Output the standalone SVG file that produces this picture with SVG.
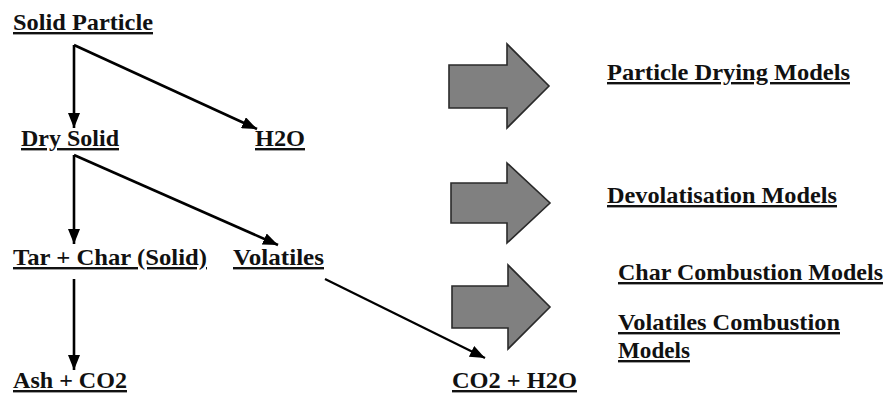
<svg xmlns="http://www.w3.org/2000/svg" width="889" height="393" viewBox="0 0 889 393">
<defs>
<marker id="ah" markerUnits="userSpaceOnUse" markerWidth="16" markerHeight="12" refX="15" refY="6" orient="auto">
<path d="M0,0 L15,6 L0,12 z" fill="#000"/>
</marker>
<style>
text{font-family:'Liberation Serif','Times New Roman',serif;font-weight:bold;font-size:24px;fill:#111;text-decoration:underline}
.c{stroke:#000;stroke-width:2.6;fill:none;marker-end:url(#ah)}
.b{fill:#808080;stroke:#2a2a2a;stroke-width:1.6;stroke-linejoin:miter}
</style>
</defs>
<rect width="889" height="393" fill="#fff"/>
<g id="connectors">
<line class="c" x1="74" y1="45" x2="74" y2="128"/>
<line class="c" x1="74" y1="45" x2="257" y2="129"/>
<line class="c" x1="74" y1="155" x2="74" y2="244"/>
<line class="c" x1="74" y1="155" x2="278" y2="245"/>
<line class="c" x1="74" y1="279" x2="74" y2="370"/>
<line class="c" x1="325" y1="279" x2="485" y2="358" style="stroke-width:2.2"/>
</g>
<g id="solid-particle"><text x="13" y="30" textLength="140" lengthAdjust="spacingAndGlyphs">Solid Particle</text></g>
<g id="dry-solid"><text x="21" y="146" textLength="98" lengthAdjust="spacingAndGlyphs">Dry Solid</text></g>
<g id="h2o"><text x="255" y="146" textLength="50" lengthAdjust="spacingAndGlyphs">H2O</text></g>
<g id="tar-char"><text x="13" y="265" textLength="194" lengthAdjust="spacingAndGlyphs">Tar + Char (Solid)</text></g>
<g id="volatiles"><text x="233" y="265" textLength="91" lengthAdjust="spacingAndGlyphs">Volatiles</text></g>
<g id="ash-co2"><text x="13" y="388" textLength="114" lengthAdjust="spacingAndGlyphs">Ash + CO2</text></g>
<g id="co2-h2o"><text x="452" y="388" textLength="125" lengthAdjust="spacingAndGlyphs">CO2 + H2O</text></g>
<g id="arrow-drying"><path class="b" d="M449,65 L507,65 L507,44 L549,86 L507,128 L507,108 L449,108 z"/></g>
<g id="arrow-devol"><path class="b" d="M451,183 L507,183 L507,163 L550,203 L507,243 L507,223 L451,223 z"/></g>
<g id="arrow-comb"><path class="b" d="M452,286 L508,286 L508,265 L550,307 L508,349 L508,328 L452,328 z"/></g>
<g id="drying-models"><text x="607" y="80" textLength="243" lengthAdjust="spacingAndGlyphs">Particle Drying Models</text></g>
<g id="devol-models"><text x="607" y="203" textLength="230" lengthAdjust="spacingAndGlyphs">Devolatisation Models</text></g>
<g id="char-models"><text x="618" y="280" textLength="265" lengthAdjust="spacingAndGlyphs">Char Combustion Models</text></g>
<g id="vol-models"><text x="618" y="330" textLength="222" lengthAdjust="spacingAndGlyphs">Volatiles Combustion</text><text x="618" y="358" textLength="72" lengthAdjust="spacingAndGlyphs">Models</text></g>
</svg>
